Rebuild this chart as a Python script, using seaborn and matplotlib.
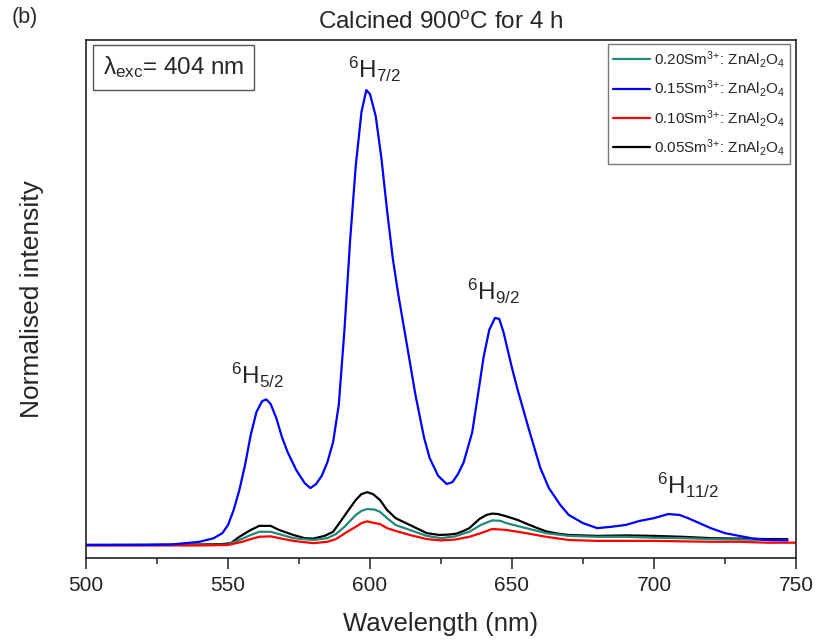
import numpy as np
import pandas as pd
import matplotlib
matplotlib.use("Agg")
import matplotlib.pyplot as plt
import seaborn as sns
from matplotlib.lines import Line2D

# ---- data ----
wl_015 = [500, 520, 530, 540, 545, 548, 550, 552, 554, 556, 558, 560, 562, 563.5, 565, 567, 569, 571,
          574, 577, 579, 581, 583, 585, 587, 589, 591, 593, 595, 597, 598.7, 600, 602, 604, 606, 608,
          610, 613, 616, 619, 621, 624, 627, 629, 631, 633, 636, 638, 640, 642, 644, 645.5, 647, 650,
          652, 656, 660, 663, 667, 670, 675, 680, 685, 690, 695, 700, 705, 709, 712, 716, 720, 725,
          730, 735, 740, 747]
int_015 = [0.000, 0.000, 0.001, 0.007, 0.015, 0.026, 0.044, 0.077, 0.121, 0.176, 0.242, 0.292, 0.316,
           0.320, 0.310, 0.279, 0.237, 0.204, 0.165, 0.136, 0.125, 0.134, 0.152, 0.182, 0.226, 0.308,
           0.473, 0.670, 0.835, 0.952, 1.000, 0.991, 0.943, 0.851, 0.736, 0.631, 0.549, 0.440, 0.330,
           0.237, 0.191, 0.152, 0.134, 0.138, 0.156, 0.182, 0.248, 0.330, 0.413, 0.473, 0.499, 0.497,
           0.468, 0.389, 0.341, 0.253, 0.169, 0.125, 0.088, 0.066, 0.048, 0.037, 0.040, 0.044, 0.053,
           0.059, 0.068, 0.066, 0.059, 0.048, 0.037, 0.026, 0.020, 0.014, 0.011, 0.010]

wl_005 = [500, 540, 548, 551, 554, 558, 561, 565, 568, 573, 577, 580, 584, 587, 590, 592, 595, 597, 599,
          601, 603.5, 606, 609, 611, 614, 617, 620, 624.5, 628, 630.5, 633, 635, 638.5, 641, 643, 645,
          648, 652, 655, 659, 662, 666, 670, 680, 690, 700, 710, 720, 730, 740, 747]
int_005 = [0.000, 0.001, 0.002, 0.004, 0.018, 0.033, 0.042, 0.042, 0.033, 0.022, 0.015, 0.014, 0.020,
           0.029, 0.055, 0.073, 0.099, 0.112, 0.116, 0.112, 0.099, 0.077, 0.059, 0.053, 0.044, 0.035,
           0.026, 0.022, 0.023, 0.025, 0.031, 0.037, 0.057, 0.066, 0.069, 0.068, 0.063, 0.055, 0.047,
           0.037, 0.030, 0.025, 0.022, 0.020, 0.021, 0.020, 0.018, 0.015, 0.014, 0.013, 0.013]

wl_020 = [500, 540, 550, 554, 558, 561, 565, 568, 573, 580, 585, 588, 591, 593, 595, 597, 599, 601.5,
          603.5, 606, 609, 614, 620, 625, 630, 635, 639, 643, 646, 648, 655, 662, 670, 680, 690, 700,
          710, 720, 730, 740, 747]
int_020 = [0.000, 0.000, 0.001, 0.011, 0.022, 0.029, 0.029, 0.024, 0.015, 0.011, 0.015, 0.024, 0.040,
           0.053, 0.066, 0.075, 0.079, 0.078, 0.073, 0.059, 0.044, 0.033, 0.020, 0.015, 0.019, 0.029,
           0.044, 0.054, 0.053, 0.048, 0.037, 0.026, 0.020, 0.018, 0.018, 0.016, 0.015, 0.013, 0.012,
           0.011, 0.011]

wl_010 = [500, 540, 550, 555, 558, 561, 565, 568, 573, 580, 585, 588, 592, 595, 597, 599, 601, 603.5,
          606, 609, 614, 620, 625, 630, 635, 639, 643, 646, 648, 655, 662, 670, 680, 690, 700, 710,
          720, 730, 740, 750]
int_010 = [-0.001, -0.001, 0.000, 0.007, 0.013, 0.018, 0.019, 0.015, 0.009, 0.004, 0.007, 0.013, 0.029,
           0.040, 0.048, 0.052, 0.049, 0.046, 0.037, 0.031, 0.022, 0.013, 0.010, 0.012, 0.018, 0.026,
           0.035, 0.034, 0.033, 0.026, 0.018, 0.011, 0.009, 0.009, 0.009, 0.008, 0.007, 0.007, 0.005,
           0.005]

series_labels = [r"0.20Sm$^{3{+}}$: ZnAl$_2$O$_4$", r"0.15Sm$^{3{+}}$: ZnAl$_2$O$_4$",
                 r"0.10Sm$^{3{+}}$: ZnAl$_2$O$_4$", r"0.05Sm$^{3{+}}$: ZnAl$_2$O$_4$"]
series_colors = ["#1f8a78", "#0000ff", "#ff0000", "#000000"]
series_data = [(wl_020, int_020), (wl_015, int_015), (wl_010, int_010), (wl_005, int_005)]

peak_labels = [r"$^{6}$H$_{5/2}$", r"$^{6}$H$_{7/2}$", r"$^{6}$H$_{9/2}$", r"$^{6}$H$_{11/2}$"]
peak_pos = [(560.5, 0.372), (601.5, 1.045), (643.3, 0.558), (712, 0.130)]

xticks = [500, 550, 600, 650, 700, 750]

# ---- build table ----
frames = []
for lab, (x, y) in zip(series_labels, series_data):
    frames.append(pd.DataFrame({"Wavelength": x, "Intensity": y, "Sample": lab}))
df = pd.concat(frames, ignore_index=True)

sns.set_theme(style="white")
plt.rcParams["font.family"] = ["Liberation Sans", "DejaVu Sans"]
plt.rcParams["mathtext.fontset"] = "custom"
plt.rcParams["mathtext.rm"] = "Liberation Sans"
plt.rcParams["mathtext.it"] = "Liberation Sans"

fig = plt.figure(figsize=(8.21, 6.41), dpi=100)
ax = fig.add_axes([0.1048, 0.1295, 0.8647, 0.8081])

palette = dict(zip(series_labels, series_colors))
draw_order = [series_labels[3], series_labels[0], series_labels[2], series_labels[1]]
for lab in draw_order:
    sns.lineplot(data=df[df["Sample"] == lab], x="Wavelength", y="Intensity", color=palette[lab],
                 lw=1.6, ax=ax, legend=False, sort=False, estimator=None)

ax.set_xlim(500, 750)
ax.set_ylim(-0.0286, 1.11)
ax.set_xticks(xticks)
ax.set_xticks(np.arange(525, 750, 50), minor=True)
ax.set_yticks([])
ax.tick_params(axis="x", which="major", direction="out", length=8, width=1.1, labelsize=15, pad=5,
               bottom=True, colors="#222222")
ax.tick_params(axis="x", which="minor", direction="out", length=4, width=1.1, bottom=True, colors="#222222")
for s in ax.spines.values():
    s.set_linewidth(1.2)
    s.set_color("#222222")

ax.set_xlabel("Wavelength (nm)", fontsize=18.5, labelpad=12)
ax.set_ylabel("Normalised intensity", fontsize=19, labelpad=30)
ax.set_title(r"Calcined 900$^{\rm o}$C for 4 h", fontsize=17.5, pad=8)
fig.text(0.014, 0.972, "(b)", fontsize=15.5, ha="left", va="center")

for txt, (px, py) in zip(peak_labels, peak_pos):
    ax.text(px, py, txt, fontsize=17.5, ha="center", va="center")

ax.text(0.024, 0.947, r"$\lambda_{\rm exc}$= 404 nm", transform=ax.transAxes, fontsize=17.5,
        ha="left", va="center",
        bbox=dict(boxstyle="square,pad=0.4", fc="white", ec="#555555", lw=1.0))

handles = [Line2D([0], [0], color=c, lw=1.6) for c in series_colors]
leg = ax.legend(handles, series_labels, loc="upper right", bbox_to_anchor=(0.992, 0.993), fontsize=11,
                frameon=True, fancybox=False, handlelength=2.4, handletextpad=0.25, labelspacing=0.55,
                borderpad=0.35, borderaxespad=0)
leg.get_frame().set_edgecolor("#555555")
leg.get_frame().set_linewidth(1.0)

fig.savefig("out.png", dpi=100)
